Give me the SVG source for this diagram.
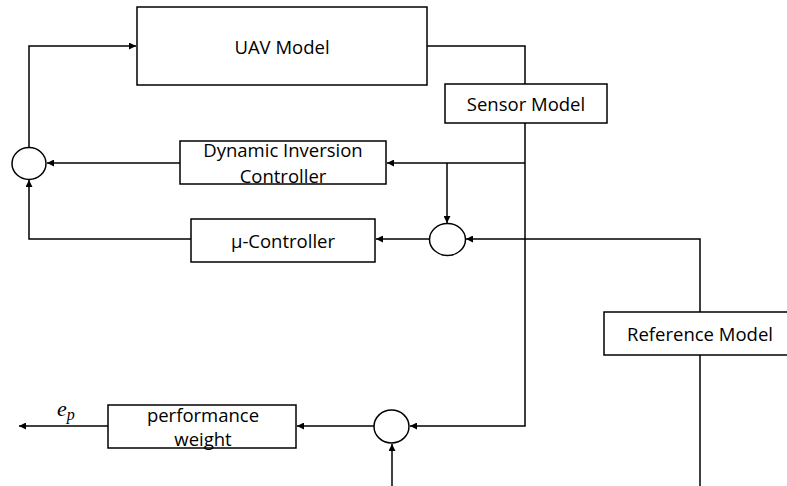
<svg xmlns="http://www.w3.org/2000/svg" width="787" height="486" viewBox="0 0 787 486">
<style>
.box{fill:#fff;stroke:#000;stroke-width:1.5}
.sum{fill:#fff;stroke:#000;stroke-width:1.5}
.t{font-family:"Open Sans","Noto Sans",sans-serif;font-size:18.5px;fill:#000;text-anchor:middle}
.c{fill:none;stroke:#000;stroke-width:1.5}
.m{font-family:"Liberation Serif","DejaVu Serif",serif;font-style:italic;fill:#000}
</style>
<defs>
<marker id="a" viewBox="0 0 10 10" refX="10" refY="5" markerWidth="7" markerHeight="7" markerUnits="userSpaceOnUse" orient="auto">
<path d="M0,0 L10,5 L0,10 z" fill="#000"/>
</marker>
</defs>
<g id="connectors">
<path class="c" d="M427,46 H525 V84"/>
<path class="c" d="M525,123 V426 H410" marker-end="url(#a)"/>
<path class="c" d="M525,163 H387" marker-end="url(#a)"/>
<path class="c" d="M447,163 V223" marker-end="url(#a)"/>
<path class="c" d="M700,312 V239 H466" marker-end="url(#a)"/>
<path class="c" d="M700,355 V486"/>
<path class="c" d="M429,239 H376" marker-end="url(#a)"/>
<path class="c" d="M191,239 H29 V180" marker-end="url(#a)"/>
<path class="c" d="M180,163 H47" marker-end="url(#a)"/>
<path class="c" d="M29,147 V46 H136" marker-end="url(#a)"/>
<path class="c" d="M374,426 H297" marker-end="url(#a)"/>
<path class="c" d="M108,426 H19" marker-end="url(#a)"/>
<path class="c" d="M392,486 V444" marker-end="url(#a)"/>
</g>
<g id="uav"><rect class="box" x="137" y="7" width="290" height="78"/><text class="t" x="282" y="54">UAV Model</text></g>
<g id="sensor"><rect class="box" x="445" y="84" width="162" height="39"/><text class="t" x="526" y="111">Sensor Model</text></g>
<g id="dic"><rect class="box" x="180" y="141" width="206" height="43"/><text class="t" x="283" y="157">Dynamic Inversion</text><text class="t" x="283" y="183">Controller</text></g>
<g id="mu"><rect class="box" x="191" y="219" width="184" height="43"/><text class="t" x="283" y="248">μ-Controller</text></g>
<g id="ref"><rect class="box" x="604" y="312" width="190" height="43"/><text class="t" x="700" y="341">Reference Model</text></g>
<g id="perf"><rect class="box" x="108" y="405" width="188" height="43"/><text class="t" x="203" y="422">performance</text><text class="t" x="203" y="446">weight</text></g>
<g id="sum1"><ellipse class="sum" cx="29" cy="163.5" rx="17" ry="16"/></g>
<g id="sum2"><ellipse class="sum" cx="447.5" cy="239.5" rx="18" ry="16"/></g>
<g id="sum3"><ellipse class="sum" cx="391.5" cy="426.5" rx="17.5" ry="16.5"/></g>
<g id="ep"><text class="m" x="57" y="416" font-size="22">e<tspan font-size="16" dy="4">p</tspan></text></g>
</svg>
